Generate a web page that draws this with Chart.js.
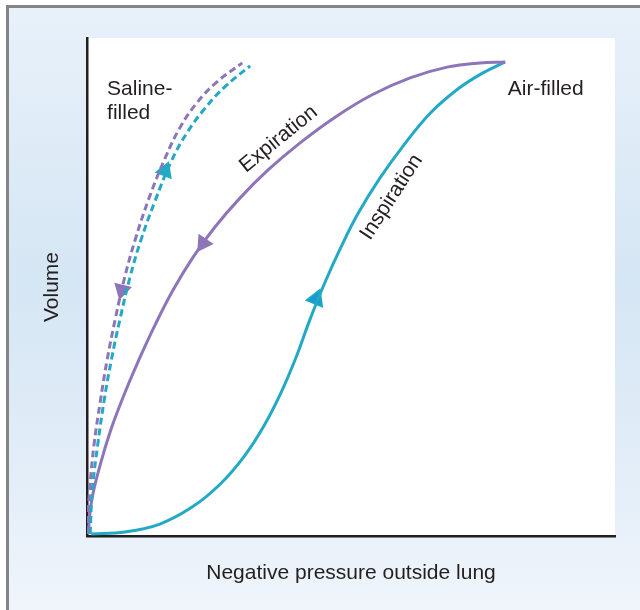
<!DOCTYPE html>
<html>
<head>
<meta charset="utf-8">
<script src="https://cdn.jsdelivr.net/npm/chart.js@4"></script>
<style>
  html, body { margin: 0; padding: 0; background: #fff; }
  #frame {
    position: absolute; left: 6px; top: 5px; width: 634px; height: 605px;
    border-left: 3px solid #858585; border-top: 3px solid #858585;
    background: linear-gradient(to bottom, #e8f1fa 0%, #d5e6f4 45%, #e2edf8 75%, #f0f5fb 100%);
  }
  #wrap { position: absolute; left: 0; top: 0; width: 640px; height: 610px; }
</style>
</head>
<body>
<div id="frame"></div>
<div id="wrap"><canvas id="chart" width="640" height="610"></canvas></div>
<script>
// curves, x = pressure (0-100), y = volume (0-100)
const inspX = [0.8, 7.2, 13.8, 19.9, 25.2, 29.7, 33.5, 36.7, 39.6, 42.2, 45.1, 48.1, 51.3, 55.5, 60.0, 65.0, 70.3, 75.0, 79.2];
const inspY = [0.4, 0.8, 2.4, 5.8, 10.4, 15.9, 22.1, 28.7, 35.9, 43.4, 51.0, 58.0, 64.7, 71.9, 78.5, 84.9, 89.8, 93.0, 95.2];

const expX = [79.2, 74.4, 68.4, 61.2, 54.0, 47.0, 40.3, 34.3, 29.0, 24.2, 20.1, 16.3, 12.9, 9.8, 7.0, 4.5, 2.5, 0.9, 0.2];
const expY = [95.2, 95.0, 94.2, 92.0, 88.6, 84.1, 78.9, 73.5, 67.9, 62.0, 56.0, 49.4, 42.4, 35.3, 28.3, 21.3, 14.3, 7.2, 0.4];

const salInX = [0.6, 1.0, 2.0, 3.2, 4.6, 6.3, 8.1, 10.2, 12.9, 15.9, 18.9, 22.2, 26.1, 30.9];
const salInY = [0.4, 9.2, 18.1, 26.9, 35.3, 43.8, 51.8, 59.4, 67.3, 75.1, 80.9, 85.7, 90.2, 94.4];

const salOutX = [0, 0.5, 1.3, 2.5, 3.8, 5.4, 7.1, 9.1, 11.7, 14.8, 17.6, 20.6, 24.4, 29.4];
const salOutY = [0.4, 9.2, 18.1, 26.9, 35.3, 43.8, 51.8, 59.4, 67.7, 75.9, 82.0, 86.7, 91.0, 95.0];

// arrow heads: position on the curve and heading (degrees, clockwise from up)
const arrowX = [43.4, 22.0, 14.8, 6.6];
const arrowY = [47.6, 58.8, 73.3, 49.4];
const arrowDir = [22, 214, 21, 194];

const labels = [
  { text: 'Saline-', x: 3.8, y: 88.6, rot: 0, align: 'left' },
  { text: 'filled', x: 3.8, y: 83.8, rot: 0, align: 'left' },
  { text: 'Air-filled', x: 79.7, y: 88.6, rot: 0, align: 'left' },
  { text: 'Expiration', x: 37.0, y: 78.8, rot: -39, align: 'center' },
  { text: 'Inspiration', x: 58.6, y: 67.4, rot: -57, align: 'center' }
];

const teal = '#22a9c5';
const purple = '#8d75b9';
const fontFam = '"Liberation Sans", Arial, sans-serif';

const pts = (xs, ys) => xs.map((x, i) => ({ x: x, y: ys[i] }));

const plotBg = {
  id: 'plotBg',
  beforeDraw(c) {
    const a = c.chartArea, ctx = c.ctx;
    ctx.save();
    ctx.fillStyle = '#fff';
    ctx.fillRect(a.left, a.top, a.right - a.left, a.bottom - a.top);
    ctx.restore();
  }
};

const notes = {
  id: 'notes',
  afterDatasetsDraw(c) {
    const ctx = c.ctx, xs = c.scales.x, ys = c.scales.y;
    ctx.save();
    ctx.fillStyle = '#231f20';
    ctx.font = '21px ' + fontFam;
    ctx.textBaseline = 'alphabetic';
    labels.forEach(l => {
      ctx.save();
      ctx.translate(xs.getPixelForValue(l.x), ys.getPixelForValue(l.y));
      ctx.rotate(l.rot * Math.PI / 180);
      ctx.textAlign = l.align;
      ctx.fillText(l.text, 0, 0);
      ctx.restore();
    });
    ctx.restore();
  }
};

const line = (data, color, dash) => ({
  data: data,
  showLine: true,
  borderColor: color,
  borderWidth: 3,
  borderDash: dash,
  pointRadius: 0,
  tension: 0.4,
  fill: false
});

new Chart(document.getElementById('chart'), {
  type: 'scatter',
  data: {
    datasets: [
      line(pts(salOutX, salOutY), purple, [7, 4]),
      line(pts(salInX, salInY), teal, [7, 4]),
      line(pts(expX, expY), purple, []),
      line(pts(inspX, inspY), teal, []),
      {
        data: pts(arrowX, arrowY),
        pointStyle: 'triangle',
        pointRadius: [10, 9, 9, 9],
        pointRotation: arrowDir,
        backgroundColor: ['#1d9ad3', purple, teal, purple],
        borderColor: [teal, purple, teal, purple],
        borderWidth: 1.5
      }
    ]
  },
  options: {
    responsive: false,
    animation: false,
    layout: { padding: { left: 30, right: 25, top: 38, bottom: 10 } },
    plugins: { legend: { display: false }, tooltip: { enabled: false } },
    scales: {
      x: {
        min: 0, max: 100,
        grid: { display: false, drawTicks: false },
        border: { color: '#231f20', width: 2.5 },
        ticks: { display: false },
        title: {
          display: true, text: 'Negative pressure outside lung', color: '#231f20',
          font: { family: fontFam, size: 21 }, padding: { top: 25, bottom: 13.8 }
        }
      },
      y: {
        min: 0, max: 100,
        grid: { display: false, drawTicks: false },
        border: { color: '#231f20', width: 2.5 },
        ticks: { display: false },
        title: {
          display: true, text: 'Volume', color: '#231f20',
          font: { family: fontFam, size: 21 }, padding: { top: 9.4, bottom: 22.4 }
        }
      }
    }
  },
  plugins: [plotBg, notes]
});
</script>
</body>
</html>
